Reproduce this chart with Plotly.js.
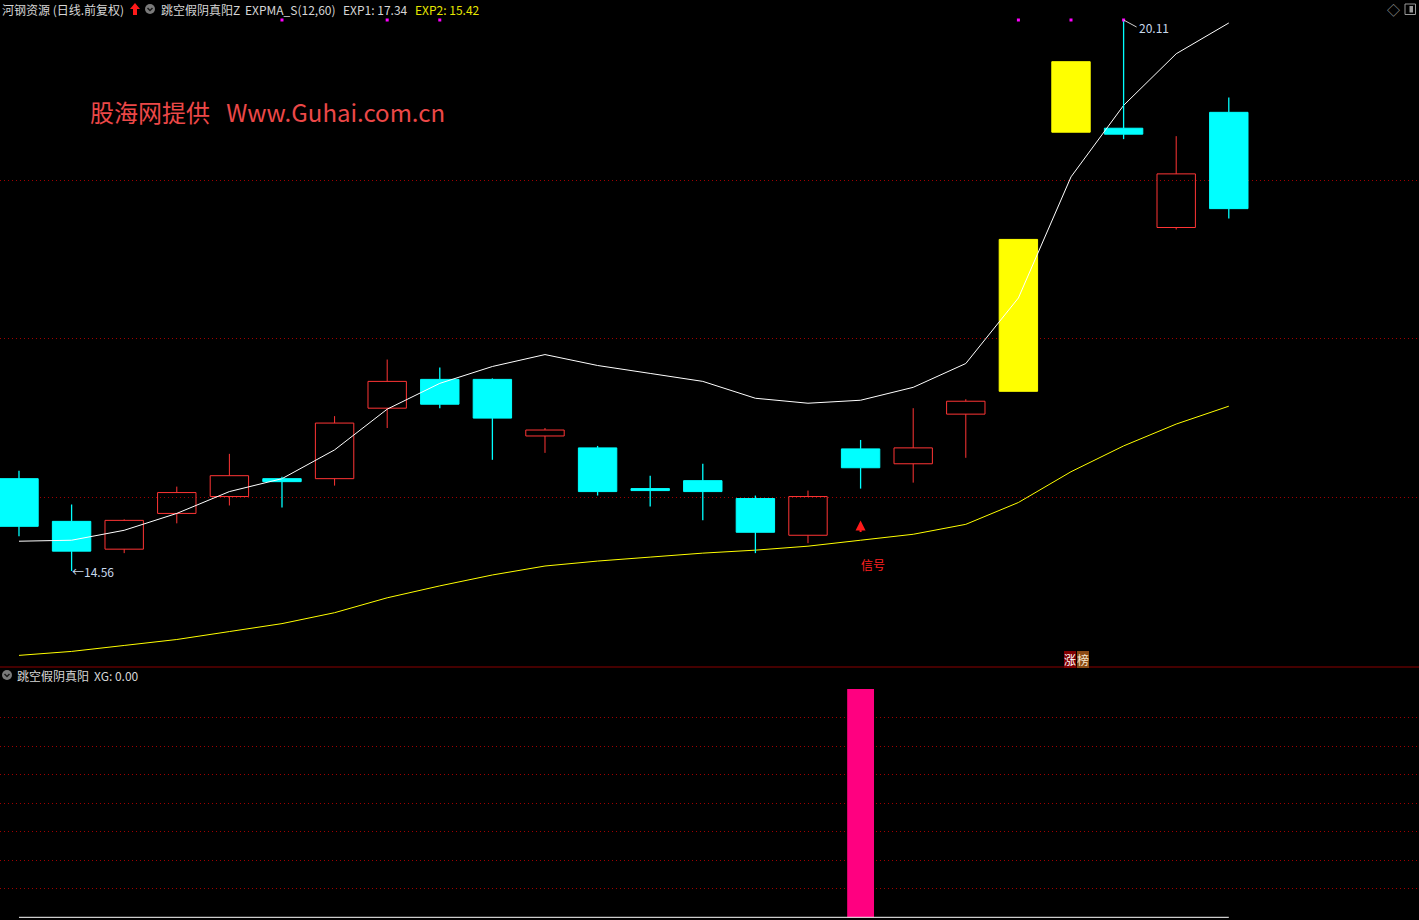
<!DOCTYPE html>
<html><head><meta charset="utf-8">
<script src="https://cdn.plot.ly/plotly-3.0.1.min.js"></script>
<style>html,body{margin:0;padding:0;background:#000;overflow:hidden}</style>
</head><body><div id="chart" style="width:1419px;height:920px"></div>
<script>
// ---- data ----
const days   = [0,1,2,3,4,5,6,7,8,9,10,11,12,13,14,15,16,17,18,19,20,21,22,23];
const opens  = [15.49,15.06,14.78,15.14,15.31,15.49,15.49,16.20,16.49,16.49,15.92,15.80,15.39,15.47,15.29,14.92,15.79,15.64,16.14,16.37,18.98,19.02,18.02,19.18];
const closes = [15.01,14.76,15.07,15.35,15.52,15.46,16.05,16.47,16.24,16.10,15.98,15.36,15.37,15.36,14.95,15.31,15.60,15.80,16.27,17.90,19.69,18.96,18.56,18.21];
const highs  = [15.57,15.23,15.08,15.41,15.74,15.51,16.12,16.69,16.61,16.50,16.00,15.82,15.52,15.64,15.32,15.37,15.88,16.20,16.29,17.90,19.69,20.11,18.94,19.33];
const lows   = [14.91,14.56,14.74,15.04,15.22,15.20,15.42,16.00,16.20,15.68,15.75,15.32,15.21,15.07,14.74,14.84,15.39,15.45,15.70,16.37,18.98,18.91,18.00,18.11];
const exp1   = [14.86,14.87,14.97,15.14,15.36,15.49,15.78,16.19,16.45,16.62,16.74,16.63,16.55,16.47,16.30,16.25,16.28,16.41,16.65,17.31,18.53,19.25,19.77,20.08];
const exp2   = [13.71,13.75,13.81,13.87,13.95,14.03,14.14,14.29,14.41,14.52,14.61,14.66,14.70,14.74,14.77,14.81,14.87,14.93,15.03,15.25,15.56,15.82,16.04,16.22];
const xg     = [0,0,0,0,0,0,0,0,0,0,0,0,0,0,0,0,1,0,0,0,0,0,0,0];
const topDot = [0,0,0,0,0,1,0,1,1,0,0,0,0,0,0,0,0,0,0,1,1,1,0,0];
const mainGrid = [15.302,16.899,18.495];
const subGrid  = [0.125,0.25,0.375,0.5,0.625,0.75,0.875];
const headerName = '河钢资源 (日线.前复权)';
const indName = '跳空假阴真阳Z';
const indParam = 'EXPMA_S(12,60)';
const exp1Label = 'EXP1: 17.34';
const exp2Label = 'EXP2: 15.42';
const subName = '跳空假阴真阳';
const subLabel = 'XG: 0.00';
const watermark = '股海网提供   Www.Guhai.com.cn';

// ---- styling ----
const W=1419,H=920;
const px=x=>x/W, py=y=>1-y/H;
const RED='#ff3535', CYAN='#00ffff', YEL='#ffff00';
const FONT='Noto Sans CJK SC, Noto Sans, sans-serif';
const Y0=13.593, Y1=20.3115;
const MAIN_BOTTOM=667;
const unitPx = MAIN_BOTTOM/(Y1-Y0);

// candle classification
const kind = days.map(i=>{
  if(i>0){ const lim=Math.round(closes[i-1]*1.1*100)/100; if(closes[i]>=lim-0.005) return 'limit'; }
  return closes[i]>=opens[i] ? 'up' : 'down';
});
const wr={x:[],y:[]}, wc={x:[],y:[]};
days.forEach(i=>{
  const t=Math.max(opens[i],closes[i]), b=Math.min(opens[i],closes[i]);
  const w = kind[i]==='up'?wr:wc;
  if(kind[i]==='limit') return;
  if(highs[i]>t){w.x.push(i,i,null);w.y.push(highs[i],t,null);}
  if(lows[i]<b){w.x.push(i,i,null);w.y.push(b,lows[i],null);}
});
const bodyBase = days.map(i=>Math.min(opens[i],closes[i]));
const bodyH = days.map(i=>Math.max(Math.abs(closes[i]-opens[i]),0.004));
const fillC = kind.map(k=>k==='up'?'rgba(0,0,0,0)':(k==='limit'?YEL:CYAN));
const lineC = kind.map(k=>k==='up'?RED:(k==='limit'?YEL:CYAN));

const dotX=[],dotY=[]; const hiMax=Math.max(...highs);
days.forEach(i=>{ if(topDot[i]){dotX.push(i);dotY.push(hiMax);} });

const traces=[
  {type:'scatter',mode:'lines',x:wr.x,y:wr.y,line:{color:RED,width:1},hoverinfo:'skip'},
  {type:'bar',x:days,y:bodyH,base:bodyBase,width:0.73,marker:{color:fillC,line:{color:lineC,width:1}}},
  {type:'scatter',mode:'lines',x:days,y:exp1,line:{color:'#ffffff',width:1}},
  {type:'scatter',mode:'lines',x:days,y:exp2,line:{color:'#ffff00',width:1}},
  {type:'scatter',mode:'lines',x:wc.x,y:wc.y,line:{color:CYAN,width:1.3},hoverinfo:'skip'},
  {type:'scatter',mode:'markers',x:dotX,y:dotY,marker:{symbol:'square',size:3,color:'#ff00ff'}},
  {type:'bar',x:days,y:xg,width:0.51,marker:{color:'#ff0080',line:{width:0}},xaxis:'x2',yaxis:'y2'},
  {type:'scatter',mode:'lines',x:days,y:days.map(()=>0),line:{color:'#ffffff',width:1},xaxis:'x2',yaxis:'y2'}
];

const loIdx = lows.indexOf(Math.min(...lows));
const hiIdx = highs.indexOf(hiMax);
const sigIdx = xg.indexOf(1);
let limIdx = kind.lastIndexOf('limit');

const txt=(t,x,y,color,size)=>({text:t,x:px(x),y:py(y),xref:'paper',yref:'paper',xanchor:'left',yanchor:'middle',showarrow:false,font:{family:FONT,size:size||12,color:color}});

const annotations=[
  txt(headerName,0,9,'#d6d6d6'),
  txt(indName,159,9,'#d6d6d6'),
  txt(indParam,243,9,'#d6d6d6'),
  txt(exp1Label,341,9,'#d6d6d6'),
  txt(exp2Label,413,9,'#e6e600'),
  txt(subName,15,675,'#d6d6d6'),
  txt(subLabel,92,675,'#d6d6d6'),
  txt(watermark,88,112,'#ec4848',24),
  {text:'←14.56',x:loIdx,y:lows[loIdx],xref:'x',yref:'y',xanchor:'left',yanchor:'middle',showarrow:false,xshift:-2,font:{family:FONT,size:12,color:'#c8d8ec'}},
  {text:'20.11',x:hiIdx,y:highs[hiIdx],xref:'x',yref:'y',xanchor:'left',yanchor:'middle',showarrow:true,ax:13,ay:7,arrowhead:0,arrowwidth:1,arrowcolor:'#d0d0d0',font:{family:FONT,size:12,color:'#c8d8ec'}},
  {text:'',x:sigIdx,y:lows[sigIdx]-32/unitPx,xref:'x',yref:'y',showarrow:true,ax:0,ay:13,arrowhead:2,arrowsize:1,arrowwidth:2,arrowcolor:'#ff1a1a'},
  {text:'信号',x:sigIdx,y:lows[sigIdx]-76/unitPx,xref:'x',yref:'y',xanchor:'left',yanchor:'middle',showarrow:false,xshift:-2,font:{family:FONT,size:12,color:'#ff2020'}},
  {text:'涨',x:limIdx,y:py(659.5),xref:'x',yref:'paper',xanchor:'center',yanchor:'middle',showarrow:false,xshift:-1,bgcolor:'#800000',borderpad:0,borderwidth:0,font:{family:FONT,size:12,color:'#ffffff'}},
  {text:'榜',x:limIdx,y:py(659.5),xref:'x',yref:'paper',xanchor:'center',yanchor:'middle',showarrow:false,xshift:11.5,bgcolor:'#8b4a14',borderpad:0,borderwidth:0,font:{family:FONT,size:12,color:'#f4e6cc'}},
  txt('◇',1385,9,'#9a9a9a',13)
];

const P=(pts)=>'M'+pts.map(p=>px(p[0])+','+py(p[1])).join('L');
const shapes=[
  {type:'line',xref:'paper',yref:'paper',x0:0,x1:1,y0:py(667),y1:py(667),line:{color:'#8a0000',width:1}},
  {type:'path',xref:'paper',yref:'paper',path:P([[130,9],[135,3],[140,9],[137,9],[137,15],[133,15],[133,9]])+'Z',fillcolor:'#ff1a1a',line:{width:0}},
  {type:'circle',xref:'paper',yref:'paper',x0:px(145),x1:px(155),y0:py(14),y1:py(4),fillcolor:'#7a7a7a',line:{width:0}},
  {type:'path',xref:'paper',yref:'paper',path:P([[147.5,8],[150,10.5],[152.5,8]]),line:{color:'#1a1a1a',width:1.5}},
  {type:'circle',xref:'paper',yref:'paper',x0:px(2),x1:px(12),y0:py(680),y1:py(670),fillcolor:'#7a7a7a',line:{width:0}},
  {type:'path',xref:'paper',yref:'paper',path:P([[4.5,674],[7,676.5],[9.5,674]]),line:{color:'#1a1a1a',width:1.5}},
  {type:'rect',xref:'paper',yref:'paper',x0:px(1405),x1:px(1415.5),y0:py(14.5),y1:py(4),line:{color:'#9a9a9a',width:1},fillcolor:'rgba(0,0,0,0)'},
  {type:'rect',xref:'paper',yref:'paper',x0:px(1409.5),x1:px(1413),y0:py(12.5),y1:py(6),line:{width:0},fillcolor:'#9a9a9a'}
];

const axBase={showgrid:false,zeroline:false,showticklabels:false,ticks:'',showline:false,fixedrange:true};
const layout={
  width:W,height:H,margin:{l:0,r:0,t:0,b:0,pad:0},
  paper_bgcolor:'#000',plot_bgcolor:'#000',showlegend:false,hovermode:false,
  xaxis:Object.assign({},axBase,{range:[-0.361,26.616],anchor:'y'}),
  xaxis2:Object.assign({},axBase,{range:[-0.361,26.616],anchor:'y2',matches:'x'}),
  yaxis:Object.assign({},axBase,{domain:[1-MAIN_BOTTOM/H,1],range:[Y0,Y1],showgrid:true,tickvals:mainGrid,gridcolor:'#a00000',griddash:'1px,3px',gridwidth:1}),
  yaxis2:Object.assign({},axBase,{domain:[0,1-668/H],range:[-0.0118,1.092],showgrid:true,tickvals:subGrid,gridcolor:'#a00000',griddash:'1px,3px',gridwidth:1}),
  annotations:annotations,shapes:shapes
};
Plotly.newPlot('chart',traces,layout,{staticPlot:true,displayModeBar:false});
</script></body></html>
